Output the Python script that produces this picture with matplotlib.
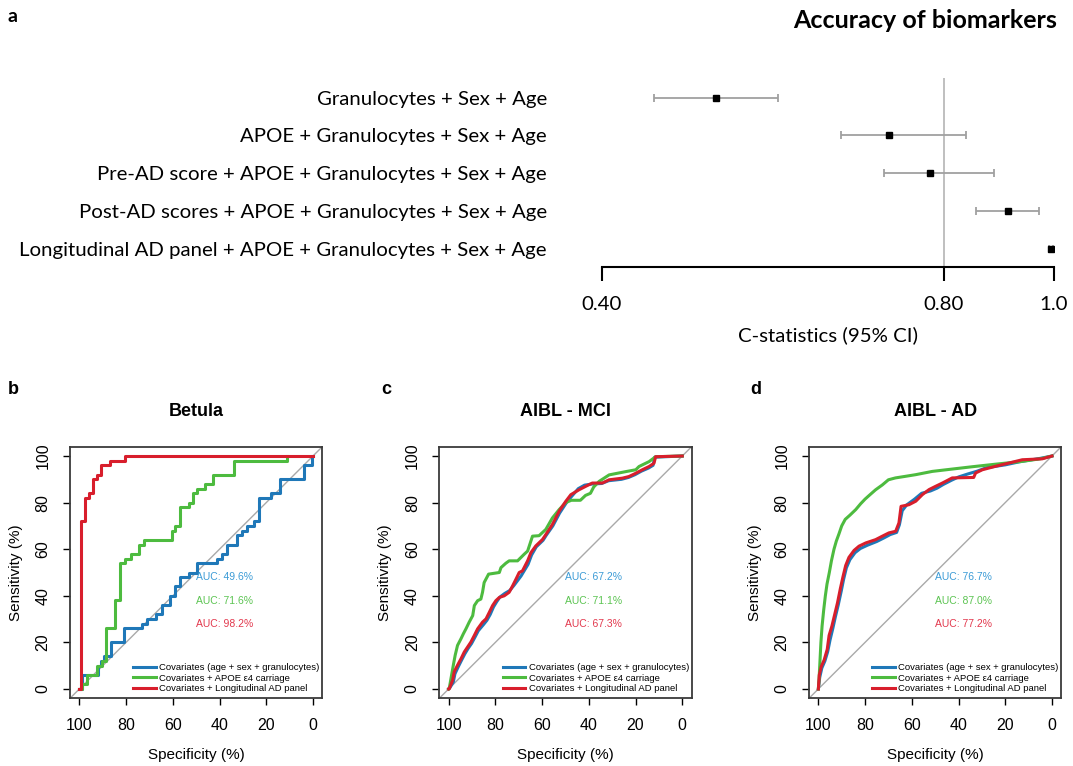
import numpy as np
import matplotlib
matplotlib.use("Agg")
import matplotlib.pyplot as plt
from matplotlib.ticker import NullLocator

plt.rcParams['font.family'] = 'Liberation Sans'

# =============================================================================
# Panel a - C-statistics (95% CI) per model
# =============================================================================
modelos = [
    "Granulocytes + Sex + Age",
    "APOE + Granulocytes + Sex + Age",
    "Pre-AD score + APOE + Granulocytes + Sex + Age",
    "Post-AD scores + APOE + Granulocytes + Sex + Age",
    "Longitudinal AD panel + APOE + Granulocytes + Sex + Age",
]
auc_a = [0.504, 0.716, 0.778, 0.911, 0.993]
ci_lo = [0.445, 0.649, 0.709, 0.853, 0.990]
ci_hi = [0.572, 0.836, 0.885, 0.970, 0.997]

# =============================================================================
# Panels b-d - ROC curves (specificity %, sensitivity %)
# =============================================================================
labels_roc = ["Covariates (age + sex + granulocytes)",
              "Covariates + APOE \u03b54 carriage",
              "Covariates + Longitudinal AD panel"]

# Betula: corner points of the step curves
betula_blue_spec = [100, 98.9, 92.0, 90.7, 89.6, 86.4, 81.0, 73.1, 71.0, 67.4, 64.6, 61.0,
                    58.9, 56.7, 53.1, 49.6, 41.0, 38.9, 36.7, 32.4, 30.3, 28.1, 25.3, 23.1,
                    18.1, 13.9, 3.9, 0.3, 0]
betula_blue_sens = [0, 6, 10, 12, 14, 20, 26, 28, 30, 32, 36, 40,
                    44, 48, 50, 54, 56, 58, 62, 66, 68, 70, 72, 82,
                    84, 90, 96, 100, 100]
betula_green_spec = [100, 98.9, 96.7, 92.4, 90.3, 88.4, 84.9, 82.4, 80.3, 78.1, 74.6, 72.4,
                     60.3, 58.9, 56.7, 53.1, 51.3, 49.6, 46.0, 42.7, 33.9, 11.3]
betula_green_sens = [0, 2, 6, 10, 12, 26, 38, 54, 56, 58, 62, 64,
                     68, 70, 78, 80, 84, 86, 88, 92, 98, 100]
betula_red_spec = [100, 99.3, 97.6, 95.8, 94.2, 92.5, 90.8, 86.7, 80.3, 0]
betula_red_sens = [0, 72, 82, 84, 90, 92, 96, 98, 100, 100]
betula_auc = [49.6, 71.6, 98.2]

# AIBL - MCI
mci_blue_spec = [100, 99.5, 98.0, 97.3, 95.9, 94.4, 93.0, 91.6, 90.2, 88.7,
                 87.3, 85.2, 83.6, 82.2, 80.8, 79.4, 78.0, 76.0, 73.8, 72.0,
                 70.5, 69.0, 67.8, 66.0, 64.5, 62.5, 59.6, 58.2, 55.4, 52.5,
                 49.7, 47.5, 44.5, 41.8, 38.5, 34.5, 31.5, 26.0, 23.0, 20.2,
                 17.5, 14.5, 12.5, 11.8, 0]
mci_blue_sens = [0, 0.5, 3.0, 6.5, 9.5, 12.5, 15.2, 17.5, 19.5, 22.3,
                 25.0, 27.5, 29.5, 32.0, 35.2, 37.5, 39.5, 41.0, 42.3, 44.5,
                 46.5, 48.5, 50.5, 53.5, 57.5, 61.0, 63.8, 66.0, 70.0, 75.5,
                 79.8, 82.5, 86.0, 87.5, 88.0, 88.2, 89.4, 90.0, 90.8, 92.0,
                 93.5, 94.8, 96.0, 99.5, 100]
mci_green_spec = [100, 99.7, 99.0, 98.0, 97.2, 96.2, 94.7, 93.7, 92.6, 91.2,
                  89.7, 89.0, 87.6, 86.2, 85.5, 84.8, 82.9, 78.3, 77.6, 75.5,
                  74.1, 70.5, 69.1, 67.7, 66.2, 64.1, 61.3, 58.4, 55.6, 52.7,
                  49.9, 47.5, 43.6, 41.4, 39.3, 37.9, 35.6, 31.3, 24.2, 19.9,
                  18.5, 14.2, 11.4, 0]
mci_green_sens = [0, 0.5, 4.5, 10.2, 14.5, 18.7, 21.6, 23.7, 25.8, 28.7,
                  31.5, 35.8, 37.9, 38.6, 41.5, 45.7, 49.3, 50.0, 52.1, 54.0,
                  55.0, 55.0, 56.4, 57.8, 59.2, 65.6, 65.8, 68.5, 73.4, 77.0,
                  80.0, 81.0, 81.0, 83.1, 84.0, 86.7, 89.1, 91.9, 93.3, 94.1,
                  95.5, 97.6, 99.7, 100]
mci_red_spec = [100, 99.7, 98.3, 97.6, 96.2, 94.7, 93.3, 91.9, 90.5, 89.0,
                87.6, 85.5, 84.0, 82.6, 81.2, 79.8, 78.3, 76.2, 74.1, 72.6,
                71.2, 69.8, 68.4, 66.2, 64.8, 62.7, 59.8, 58.4, 55.6, 52.7,
                49.9, 47.7, 44.2, 41.3, 38.5, 34.2, 31.3, 25.6, 22.8, 19.9,
                17.1, 14.2, 12.1, 11.4, 0]
mci_red_sens = [0, 0.1, 3.8, 7.4, 10.2, 13.0, 15.9, 18.0, 20.1, 23.0,
                25.8, 28.7, 30.1, 32.9, 35.8, 37.9, 39.3, 40.0, 41.5, 44.3,
                47.1, 50.0, 50.7, 55.0, 58.5, 61.4, 64.2, 66.3, 70.6, 76.3,
                80.5, 83.4, 85.5, 87.0, 88.4, 88.4, 89.8, 90.5, 91.2, 92.6,
                94.1, 95.5, 96.9, 99.7, 100]
mci_auc = [67.2, 71.1, 67.3]

# AIBL - AD
ad_blue_spec = [100, 99.4, 98.5, 97.2, 96.0, 95.0, 93.8, 92.7, 91.5, 90.2,
                89.2, 88.0, 86.5, 84.3, 82.0, 79.0, 75.0, 72.0, 69.2, 66.5,
                65.3, 64.1, 62.2, 58.8, 55.8, 52.0, 49.2, 46.5, 43.0, 40.0,
                36.0, 32.0, 28.0, 20.0, 14.0, 5.0, 0]
ad_blue_sens = [0, 5, 9, 12, 16, 21, 26, 31, 36, 42,
                47, 52, 55.5, 58.5, 60.3, 61.7, 63.3, 64.8, 66.3, 67.2,
                70.5, 76.5, 79.0, 81.5, 84.0, 85.0, 86.2, 87.8, 89.6, 91.0,
                92.3, 93.5, 95.0, 96.2, 97.5, 99.0, 100]
ad_green_spec = [100, 99.7, 99.3, 98.9, 98.4, 97.7, 97.0, 96.3, 95.3, 94.4,
                 93.3, 92.3, 91.2, 90.0, 88.5, 86.5, 84.0, 81.9, 80.0, 78.0,
                 75.5, 72.6, 70.0, 67.0, 62.6, 58.3, 51.2, 42.7, 34.1, 24.1,
                 12.7, 5.0, 0]
ad_green_sens = [0, 4, 12, 20, 27, 34, 40, 45, 50, 55,
                 60, 63.5, 66.5, 70, 72.8, 74.6, 77, 79.5, 81.5, 83.3,
                 85.5, 87.6, 89.8, 90.6, 91.3, 92, 93.4, 94.4, 95.4, 96.5,
                 97.7, 98.8, 100]
ad_red_spec = [100, 99.6, 98.8, 97.5, 96.2, 95.4, 94.2, 93.0, 91.8, 90.6,
               89.5, 88.3, 86.9, 84.7, 82.6, 79.7, 75.5, 72.6, 69.8, 66.9,
               65.5, 64.6, 61.2, 58.3, 55.5, 52.6, 49.8, 46.9, 42.7, 33.5,
               32.7, 29.8, 24.1, 18.4, 12.7, 4.1, 0]
ad_red_sens = [0, 6, 9.5, 12.5, 17, 23, 27, 32, 37, 43,
               48, 53, 56.5, 59.5, 61.3, 62.7, 64.1, 65.6, 67, 67.7,
               71.3, 78.4, 79.1, 80.6, 83.4, 85.6, 87, 88.4, 90.6, 90.8,
               92.7, 94.1, 95.6, 97, 98.4, 98.8, 100]
ad_auc = [76.7, 87.0, 77.2]

COLORES = ['#1f78b8', '#4dbb3f', '#d81e2c']
COLORES_AUC = ['#3b9bd6', '#5cc452', '#e2384d']

W, H = 1073, 766


def caja(left, top, right, bottom):
    """Pixel box -> figure fraction [l, b, w, h]."""
    return [left / W, 1 - bottom / H, (right - left) / W, (bottom - top) / H]


fig = plt.figure(figsize=(W / 100, H / 100), dpi=100)

# --- Panel a: forest plot ---
filas = np.arange(len(modelos), 0, -1)
auc_arr = np.array(auc_a)
err = [auc_arr - np.array(ci_lo), np.array(ci_hi) - auc_arr]

ax_a = fig.add_axes(caja(601.7, 78, 1054, 267))
ax_a.axvline(0.8, color='#b4b4b4', lw=1.2, zorder=1)
ax_a.errorbar(auc_arr, filas, xerr=err, fmt='s', ms=4.5, mfc='black', mec='black',
              ecolor='#a0a0a0', elinewidth=1.3, capsize=3, capthick=1.3, zorder=3)
ax_a.set_xscale('log')
ax_a.set_xlim(0.4, 1.0)
ax_a.set_ylim(0.515, 5.52)
ax_a.xaxis.set_minor_locator(NullLocator())
ax_a.set_xticks([0.4, 0.8, 1.0], ['0.40', '0.80', '1.0'], fontfamily='Lato', fontsize=14.7)
ax_a.set_yticks(filas, modelos, fontfamily='Lato', fontsize=14.7)
for s in ['top', 'right', 'left']:
    ax_a.spines[s].set_visible(False)
ax_a.spines['bottom'].set_linewidth(1.5)
ax_a.tick_params(axis='x', direction='out', length=10, width=1.5, pad=11)
ax_a.tick_params(axis='y', length=0, pad=39.4)
ax_a.text(0.5, (267 - 335) / 189, 'C-statistics (95% CI)', transform=ax_a.transAxes,
          ha='center', va='center', fontsize=14.7, fontfamily='Lato')

fig.text(1057 / W, 1 - 20 / H, 'Accuracy of biomarkers', ha='right', va='center',
         fontsize=18, fontweight='bold', fontfamily='Lato')
fig.text(12 / W, 1 - 17 / H, 'a', ha='center', va='center',
         fontsize=14, fontweight='bold', fontfamily='Lato')

# --- Panels b-d: ROC curves ---
paneles = [
    ('b', 'Betula', 70.0, 13,
     [(betula_blue_spec, betula_blue_sens), (betula_green_spec, betula_green_sens),
      (betula_red_spec, betula_red_sens)], betula_auc, 'steps-post'),
    ('c', 'AIBL - MCI', 439.3, 386.7,
     [(mci_blue_spec, mci_blue_sens), (mci_green_spec, mci_green_sens),
      (mci_red_spec, mci_red_sens)], mci_auc, 'default'),
    ('d', 'AIBL - AD', 809.0, 756,
     [(ad_blue_spec, ad_blue_sens), (ad_green_spec, ad_green_sens),
      (ad_red_spec, ad_red_sens)], ad_auc, 'default'),
]

ancho = 252.3
for letra, titulo, x0, x_letra, curvas, aucs, estilo in paneles:
    ax = fig.add_axes(caja(x0, 446.7, x0 + ancho, 698.3))
    ax.axline((100, 0), slope=-1, color='#a9a9a9', lw=1, zorder=1)
    for (spec, sens), col, lab in zip(curvas, COLORES, labels_roc):
        ax.plot(spec, sens, color=col, lw=2.2, drawstyle=estilo, label=lab, zorder=2)
    ax.set_xlim(104, -4)
    ax.set_ylim(-4, 104)
    ax.set_xticks(range(100, -1, -20))
    ax.set_yticks(range(0, 101, 20))
    ax.tick_params(direction='out', length=5, width=1, labelsize=11.5, pad=9)
    ax.tick_params(axis='y', labelrotation=90)
    for t in ax.get_yticklabels():
        t.set_va('center')
    for s in ax.spines.values():
        s.set_linewidth(1.3)
        s.set_color('#3a3a3a')

    for i, (v, c) in enumerate(zip(aucs, COLORES_AUC)):
        ax.text(50, 50 - 10 * i, f'AUC: {v:.1f}%', ha='left', va='top', fontsize=7.5, color=c)

    ax.legend(loc='lower right', bbox_to_anchor=(0.99, 0.02), frameon=False, fontsize=6.8,
              handlelength=2.4, handletextpad=0.35, labelspacing=0.18, borderpad=0,
              borderaxespad=0)

    ax.text(0.5, 1.139, titulo, transform=ax.transAxes, ha='center', va='center',
            fontsize=13, fontweight='bold')
    ax.text(0.5, -0.225, 'Specificity (%)', transform=ax.transAxes, ha='center',
            va='center', fontsize=11)
    ax.text(-0.216, 0.5, 'Sensitivity (%)', transform=ax.transAxes, ha='center',
            va='center', rotation=90, fontsize=11)
    fig.text(x_letra / W, 1 - 389 / H, letra, ha='center', va='center',
             fontsize=13, fontweight='bold')

plt.savefig('out.png', dpi=100)
